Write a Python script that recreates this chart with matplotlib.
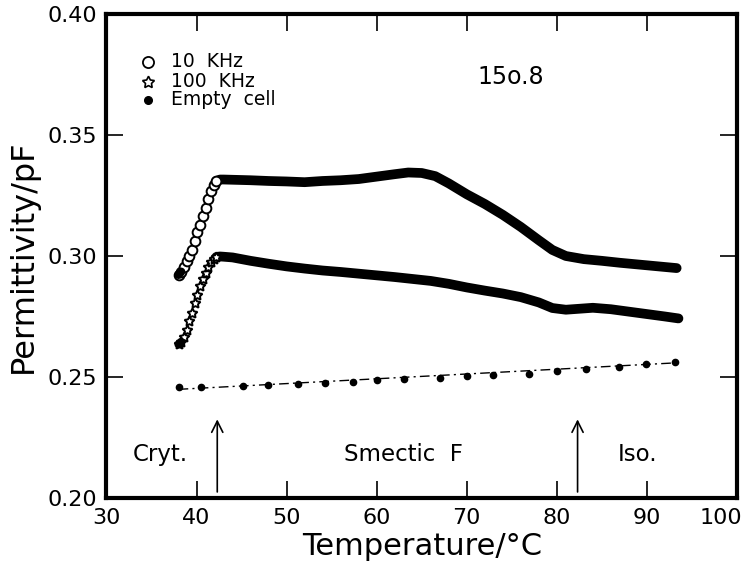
import numpy as np
import matplotlib
matplotlib.use("Agg")
import matplotlib.pyplot as plt
import matplotlib.transforms as mtransforms

# 10 KHz data (temperature in C, permittivity in pF)
temp_10k = np.array([38.0, 38.3, 38.6, 38.9, 39.2, 39.5, 39.8, 40.1, 40.4, 40.7,
                     41.0, 41.3, 41.6, 41.9, 42.2, 42.6, 43.0, 44.0, 46.0, 48.0,
                     50.0, 52.0, 54.0, 56.0, 58.0, 60.0, 62.0, 63.5, 65.0, 66.5,
                     68.0, 70.0, 72.0, 74.0, 76.0, 78.0, 79.5, 81.0, 83.0, 85.0,
                     87.0, 89.0, 91.0, 93.3])
perm_10k = np.array([0.2922, 0.2935, 0.2955, 0.2980, 0.3000, 0.3025, 0.3060, 0.3098, 0.3130, 0.3165,
                     0.3200, 0.3235, 0.3270, 0.3295, 0.3310, 0.3316, 0.3316, 0.3315, 0.3313, 0.3310,
                     0.3308, 0.3305, 0.3310, 0.3313, 0.3318, 0.3328, 0.3338, 0.3345, 0.3343, 0.3330,
                     0.3300, 0.3255, 0.3215, 0.3170, 0.3120, 0.3065, 0.3025, 0.3000, 0.2987, 0.2980,
                     0.2972, 0.2965, 0.2958, 0.2950])

# 100 KHz data
temp_100k = np.array([38.0, 38.3, 38.6, 38.9, 39.2, 39.5, 39.8, 40.1, 40.4, 40.7,
                      41.0, 41.3, 41.6, 41.9, 42.2, 42.6, 43.0, 44.0, 46.0, 48.0,
                      50.0, 52.0, 54.0, 56.0, 58.0, 60.0, 62.0, 64.0, 66.0, 68.0,
                      70.0, 72.0, 74.0, 76.0, 78.0, 79.5, 81.0, 82.5, 84.0, 86.0,
                      88.0, 90.0, 92.0, 93.5])
perm_100k = np.array([0.2635, 0.2645, 0.2665, 0.2695, 0.2730, 0.2765, 0.2805, 0.2840, 0.2875, 0.2905,
                      0.2930, 0.2955, 0.2975, 0.2988, 0.2996, 0.2998, 0.2997, 0.2994, 0.2980, 0.2968,
                      0.2957, 0.2948, 0.2940, 0.2934, 0.2927, 0.2920, 0.2913, 0.2905, 0.2897, 0.2885,
                      0.2870, 0.2857, 0.2845, 0.2830, 0.2808, 0.2785, 0.2778, 0.2782, 0.2786, 0.2780,
                      0.2770, 0.2760, 0.2750, 0.2742])

# empty cell points and the fitted line
temp_empty = [38.1, 40.5, 45.2, 47.9, 51.3, 54.3, 57.4, 60.0, 63.0, 67.0,
              70.0, 72.9, 76.9, 80.0, 83.2, 86.9, 89.9, 93.1]
perm_empty = [0.2460, 0.2460, 0.2464, 0.2467, 0.2471, 0.2477, 0.2481, 0.2486, 0.2491, 0.2497,
              0.2506, 0.2509, 0.2514, 0.2523, 0.2534, 0.2542, 0.2552, 0.2562]
fit_temp = [38.0, 93.5]
fit_perm = [0.2449, 0.2559]

# phase transitions
trans_temp = [42.3, 82.3]
phase_names = ["Cryt.", "Smectic  F", "Iso."]
phase_temp = [36.0, 63.0, 89.0]

plt.rcParams["font.family"] = ["DejaVu Sans"]

fig = plt.figure(figsize=(7.44, 5.69), dpi=100)
ax = fig.add_axes([0.1431, 0.1248, 0.8475, 0.8506])

# 10 KHz: open circles on the rise, dense band afterwards
band = temp_10k >= 42.2
rise = temp_10k < 42.5
ax.plot(temp_10k[band], perm_10k[band], color="black", lw=7,
        solid_capstyle="round", solid_joinstyle="round", zorder=3)
ax.plot(temp_10k[rise], perm_10k[rise], ls="none", marker="o", ms=7,
        mfc="white", mec="black", mew=1.4, zorder=4)
ax.plot(temp_10k[:2], perm_10k[:2], color="black", lw=6,
        solid_capstyle="round", zorder=5)

band = temp_100k >= 42.2
rise = temp_100k < 42.5
ax.plot(temp_100k[band], perm_100k[band], color="black", lw=7,
        solid_capstyle="round", solid_joinstyle="round", zorder=3)
ax.plot(temp_100k[rise], perm_100k[rise], ls="none", marker=(5, 1, 0), ms=7.5,
        mfc="white", mec="black", mew=1.4, zorder=4)
ax.plot(temp_100k[:2], perm_100k[:2], color="black", lw=6,
        solid_capstyle="round", zorder=5)

# empty cell
ax.plot(fit_temp, fit_perm, color="black", lw=1.0, dashes=[7, 3, 1.5, 3], zorder=2)
ax.plot(temp_empty, perm_empty, ls="none", marker="o", ms=4.5, color="black", zorder=3)

# legend drawn by hand
leg_y = [0.3802, 0.3721, 0.3645]
ax.plot(34.6, leg_y[0], marker="o", ms=8, mfc="white", mec="black", mew=1.3)
ax.plot(34.6, leg_y[1], marker=(5, 1, 0), ms=9, mfc="white", mec="black", mew=1.2)
ax.plot(34.6, leg_y[2], marker="o", ms=5.5, color="black")
for y, s in zip(leg_y, ["10  KHz", "100  KHz", "Empty  cell"]):
    ax.text(37.2, y, s, fontsize=13.5, va="center", ha="left")

ax.text(74.9, 0.374, "15o.8", fontsize=17, ha="center", va="center")

# transitions and phases
for t in trans_temp:
    ax.annotate("", xy=(t, 0.2325), xytext=(t, 0.2025),
                arrowprops=dict(arrowstyle="->", lw=1.2, color="black",
                                mutation_scale=20, shrinkA=0, shrinkB=0))
for t, s in zip(phase_temp, phase_names):
    ax.text(t, 0.2178, s, fontsize=16.5, ha="center", va="center")

ax.set_xlim(30, 100)
ax.set_ylim(0.20, 0.40)
ax.set_xticks([30, 40, 50, 60, 70, 80, 90, 100])
ax.set_yticks([0.20, 0.25, 0.30, 0.35, 0.40])
ax.set_yticklabels(["0.20", "0.25", "0.30", "0.35", "0.40"])
ax.tick_params(direction="in", length=12, width=1.2, top=True, right=True,
               labelsize=16, pad=7)
for sp in ax.spines.values():
    sp.set_linewidth(3)

# keep the last x label inside the figure
last = ax.get_xticklabels()[-1]
last.set_transform(last.get_transform() + mtransforms.ScaledTranslation(-16 / 100, 0, fig.dpi_scale_trans))

ax.set_xlabel("Temperature/\u00b0C", fontsize=22, labelpad=3)
ax.set_ylabel("Permittivity/pF", fontsize=23, labelpad=6)

fig.savefig("out.png", dpi=100)
